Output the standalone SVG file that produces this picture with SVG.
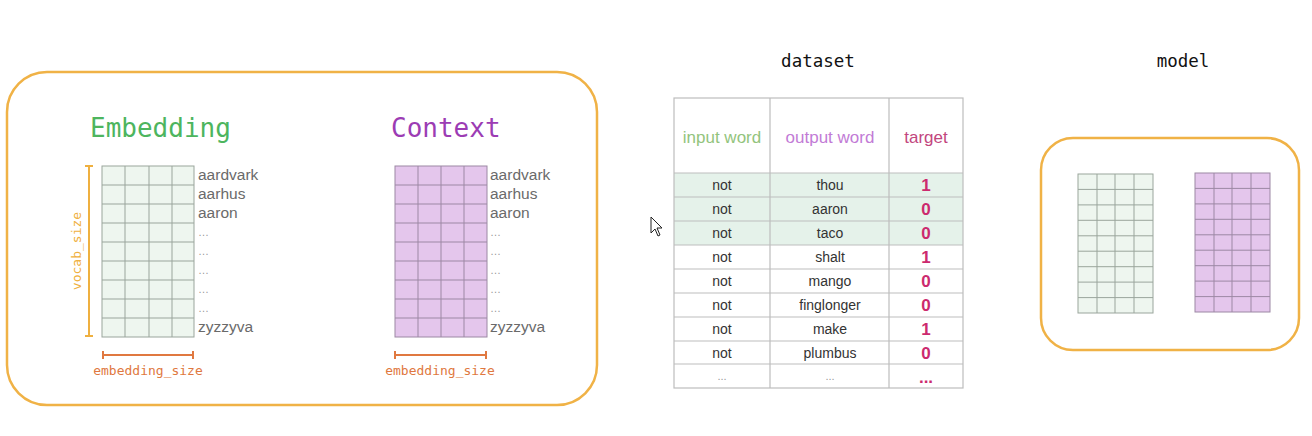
<svg xmlns="http://www.w3.org/2000/svg" width="1312" height="436" viewBox="0 0 1312 436">
<defs>
<style>
.frame{fill:#fff;stroke:#f0b246;stroke-width:2.5}
.g{fill:#eef6ef;stroke:#9aa59c;stroke-width:1}
.p{fill:#e4c6ec;stroke:#9c88a4;stroke-width:1}
.gl{stroke:#9aa59c;stroke-width:1}
.pl{stroke:#9c88a4;stroke-width:1}
.title{font-family:"DejaVu Sans Mono","Liberation Mono",monospace;font-size:26px}
.word{font-family:"Liberation Sans",Arial,sans-serif;font-size:15.5px;fill:#6a6a6a}
.dots{font-family:"Liberation Sans",Arial,sans-serif;font-size:11px;fill:#999}
.mono{font-family:"DejaVu Sans Mono","Liberation Mono",monospace}
.cell{font-family:"Liberation Sans",Arial,sans-serif;font-size:14px;fill:#333;text-anchor:middle}
.hdr{font-family:"Liberation Sans",Arial,sans-serif;font-size:17px;text-anchor:middle}
.tgt{font-family:"Liberation Sans",Arial,sans-serif;font-size:17px;font-weight:bold;fill:#cc2a6e;text-anchor:middle}
.tl{stroke:#bdbdbd;stroke-width:1.2;fill:none}
</style>
</defs>

<g id="embedding-panel">
<rect class="frame" x="7" y="72" width="590" height="333" rx="40"/>
<text class="title" x="90" y="137" fill="#4db55e">Embedding</text>
<g id="embedding-matrix">
<rect class="g" x="102" y="166" width="92" height="171"/>
<path class="gl" d="M125 166V337M149 166V337M172 166V337M102 185H194M102 204H194M102 223H194M102 242H194M102 261H194M102 280H194M102 299H194M102 318H194"/>
</g>
<g>
<text class="word" x="198" y="180">aardvark</text>
<text class="word" x="198" y="199">aarhus</text>
<text class="word" x="198" y="218">aaron</text>
<text class="dots" x="198" y="236">…</text>
<text class="dots" x="198" y="255">…</text>
<text class="dots" x="198" y="274">…</text>
<text class="dots" x="198" y="293">…</text>
<text class="dots" x="198" y="312">…</text>
<text class="word" x="198" y="332">zyzzyva</text>
</g>
<g id="vocab-size">
<path d="M89 166V336M85 166H93M85 336H93" stroke="#efb040" stroke-width="2" fill="none"/>
<text class="mono" x="0" y="0" font-size="13" fill="#efb040" text-anchor="middle" transform="translate(81 251) rotate(-90)">vocab_size</text>
</g>
<g id="embedding-size-1">
<path d="M103 355H193M103 351V359M193 351V359" stroke="#e07840" stroke-width="2" fill="none"/>
<text class="mono" x="148" y="375" font-size="13" fill="#e07840" text-anchor="middle">embedding_size</text>
</g>

<text class="title" x="391" y="137" fill="#9c3cb4">Context</text>
<g id="context-matrix">
<rect class="p" x="395" y="166" width="92" height="171"/>
<path class="pl" d="M418 166V337M441 166V337M464 166V337M395 185H487M395 204H487M395 223H487M395 242H487M395 261H487M395 280H487M395 299H487M395 318H487"/>
</g>
<g>
<text class="word" x="490" y="180">aardvark</text>
<text class="word" x="490" y="199">aarhus</text>
<text class="word" x="490" y="218">aaron</text>
<text class="dots" x="490" y="236">…</text>
<text class="dots" x="490" y="255">…</text>
<text class="dots" x="490" y="274">…</text>
<text class="dots" x="490" y="293">…</text>
<text class="dots" x="490" y="312">…</text>
<text class="word" x="490" y="332">zyzzyva</text>
</g>
<g id="embedding-size-2">
<path d="M395 355H486M395 351V359M486 351V359" stroke="#e07840" stroke-width="2" fill="none"/>
<text class="mono" x="440" y="375" font-size="13" fill="#e07840" text-anchor="middle">embedding_size</text>
</g>
</g>

<g id="cursor">
<path d="M651 217V233L655 229L658 236L660 235L657 228H662Z" fill="#fff" stroke="#222" stroke-width="1"/>
</g>

<g id="dataset">
<text class="mono" x="818" y="67" font-size="17.5" fill="#111" text-anchor="middle">dataset</text>
<rect x="674" y="173" width="289" height="72" fill="#e5f2ea"/>
<rect class="tl" x="674" y="98" width="289" height="290"/>
<path class="tl" d="M770 98V388M889 98V388M674 173H963M674 197H963M674 221H963M674 245H963M674 269H963M674 293H963M674 317H963M674 341H963M674 364H963"/>
<text class="hdr" x="722" y="143" fill="#93c47d">input word</text>
<text class="hdr" x="830" y="143" fill="#c27bd6">output word</text>
<text class="hdr" x="926" y="143" fill="#c2467e">target</text>
<g>
<text class="cell" x="722" y="190">not</text><text class="cell" x="830" y="190">thou</text><text class="tgt" x="926" y="191">1</text>
<text class="cell" x="722" y="214">not</text><text class="cell" x="830" y="214">aaron</text><text class="tgt" x="926" y="215">0</text>
<text class="cell" x="722" y="238">not</text><text class="cell" x="830" y="238">taco</text><text class="tgt" x="926" y="239">0</text>
<text class="cell" x="722" y="262">not</text><text class="cell" x="830" y="262">shalt</text><text class="tgt" x="926" y="263">1</text>
<text class="cell" x="722" y="286">not</text><text class="cell" x="830" y="286">mango</text><text class="tgt" x="926" y="287">0</text>
<text class="cell" x="722" y="310">not</text><text class="cell" x="830" y="310">finglonger</text><text class="tgt" x="926" y="311">0</text>
<text class="cell" x="722" y="334">not</text><text class="cell" x="830" y="334">make</text><text class="tgt" x="926" y="335">1</text>
<text class="cell" x="722" y="358">not</text><text class="cell" x="830" y="358">plumbus</text><text class="tgt" x="926" y="359">0</text>
<text class="dots" x="722" y="380" font-size="8" text-anchor="middle" fill="#bbb">...</text>
<text class="dots" x="830" y="380" font-size="8" text-anchor="middle" fill="#bbb">...</text>
<text class="tgt" x="926" y="383">...</text>
</g>
</g>

<g id="model">
<text class="mono" x="1183" y="67" font-size="17.5" fill="#111" text-anchor="middle">model</text>
<rect class="frame" x="1041" y="138" width="258" height="212" rx="32"/>
<g id="model-embedding">
<rect class="g" x="1078" y="174" width="75" height="139"/>
<path class="gl" d="M1097 174V313M1115 174V313M1134 174V313M1078 189.4H1153M1078 204.9H1153M1078 220.3H1153M1078 235.8H1153M1078 251.2H1153M1078 266.7H1153M1078 282.1H1153M1078 297.6H1153"/>
</g>
<g id="model-context">
<rect class="p" x="1195" y="173" width="75" height="139"/>
<path class="pl" d="M1214 173V312M1232 173V312M1251 173V312M1195 188.4H1270M1195 203.9H1270M1195 219.3H1270M1195 234.8H1270M1195 250.2H1270M1195 265.7H1270M1195 281.1H1270M1195 296.6H1270"/>
</g>
</g>
</svg>
